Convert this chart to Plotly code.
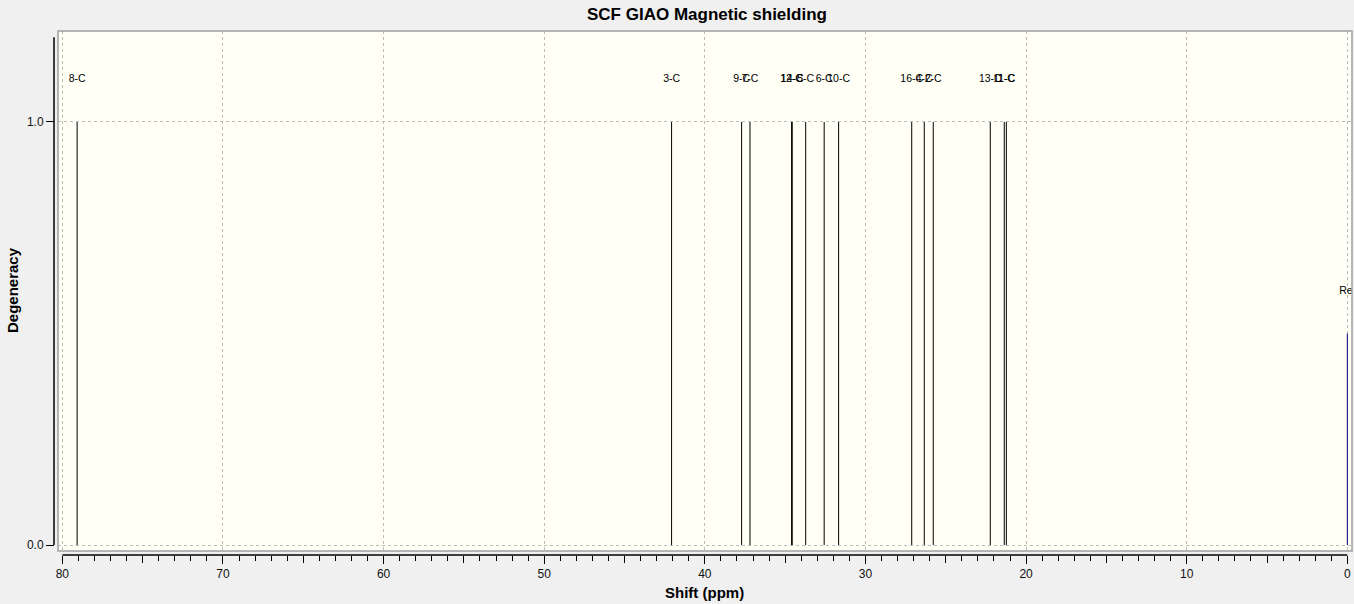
import plotly.graph_objects as go

# GIAO carbon shifts (ppm) and their degeneracy
shifts = [79.08, 42.07, 37.71, 37.19, 34.60, 34.56, 33.72, 32.57, 31.67,
          27.12, 26.34, 25.78, 22.23, 21.36, 21.23]
degeneracy = [1, 1, 1, 1, 1, 1, 1, 1, 1, 1, 1, 1, 1, 1, 1]
atoms = ["8-C", "3-C", "9-C", "7-C", "12-C", "14-C", "5-C", "6-C", "10-C",
         "16-C", "4-C", "2-C", "13-C", "11-C", "1-C"]

# reference (TMS) line
ref_shift = [0.0]
ref_height = [0.5]
ref_label = ["Ref"]

label_offset = 0.1
W, H = 1354, 604
ml, mr, mt, mb = 54, 2, 31, 49
pw = W - ml - mr
ph = H - mt - mb

font = "Liberation Sans, Arial, sans-serif"

stick_x, stick_y = [], []
for s, d in zip(shifts, degeneracy):
    stick_x += [s, s, None]
    stick_y += [0, d, None]

ref_x, ref_y = [], []
for s, d in zip(ref_shift, ref_height):
    ref_x += [s, s, None]
    ref_y += [0, d, None]

fig = go.Figure()
fig.add_trace(go.Scatter(x=stick_x, y=stick_y, mode="lines",
                         line=dict(color="black", width=1), hoverinfo="skip"))
fig.add_trace(go.Scatter(x=ref_x, y=ref_y, mode="lines",
                         line=dict(color="#000080", width=1), hoverinfo="skip"))
fig.add_trace(go.Scatter(x=shifts, y=[d + label_offset for d in degeneracy],
                         mode="text", text=atoms, cliponaxis=True,
                         textfont=dict(family=font, size=10.5, color="black")))
fig.add_trace(go.Scatter(x=ref_shift, y=[d + label_offset for d in ref_height],
                         mode="text", text=ref_label, cliponaxis=True,
                         textfont=dict(family=font, size=10.5, color="black")))
# overlay axis only for the 5 ppm tick marks
fig.add_trace(go.Scatter(x=[40], y=[0], xaxis="x2", mode="markers",
                         marker=dict(opacity=0), hoverinfo="skip"))

xr = [80.27, -0.29]
grid = dict(showgrid=True, gridcolor="#BDBDBD", griddash="3px,3px", gridwidth=1)
fig.update_layout(
    width=W, height=H,
    margin=dict(l=ml, r=mr, t=mt, b=mb),
    paper_bgcolor="#F0F0F0",
    plot_bgcolor="#FFFFF5",
    showlegend=False,
    font=dict(family=font, size=12, color="#111111"),
    xaxis=dict(
        range=xr, domain=[4 / pw, 1], anchor="free", position=0,
        dtick=10, tick0=0, ticks="outside", ticklen=8, tickcolor="black",
        showline=False, zeroline=False,
        minor=dict(dtick=1, tick0=0, ticks="outside", ticklen=5,
                   tickcolor="black", showgrid=False),
        tickfont=dict(size=12), **grid,
    ),
    xaxis2=dict(
        range=xr, domain=[4 / pw, 1], anchor="free", position=0,
        overlaying="x", dtick=5, tick0=0, ticks="outside", ticklen=7,
        tickcolor="black", showticklabels=False, showgrid=False,
        zeroline=False, showline=False,
    ),
    yaxis=dict(
        range=[-0.014, 1.215], domain=[4 / ph, 1], anchor="free", position=0,
        tickvals=[0, 1], tickformat=".1f", ticks="outside", ticklen=8,
        tickcolor="black", showline=False, zeroline=False,
        tickfont=dict(size=12), **grid,
    ),
    shapes=[
        dict(type="rect", xref="x domain", yref="y domain", x0=0, x1=1,
             y0=0, y1=1, line=dict(color="#A0A0A0", width=1.5), layer="above"),
        dict(type="line", xref="paper", yref="y", x0=0, x1=0, y0=0, y1=1.2,
             line=dict(color="black", width=1.5)),
        dict(type="line", xref="x", yref="paper", x0=80, x1=0, y0=0, y1=0,
             line=dict(color="black", width=1.5)),
    ],
    annotations=[
        dict(text="<b>SCF GIAO Magnetic shielding</b>", xref="paper",
             yref="paper", x=(707 - ml) / pw, y=1 + (mt - 15) / ph,
             xanchor="center", yanchor="middle", showarrow=False,
             font=dict(size=17, color="black")),
        dict(text="<b>Shift (ppm)</b>", xref="paper", yref="paper",
             x=(704 - ml) / pw, y=-(592 - (H - mb)) / ph,
             xanchor="center", yanchor="middle", showarrow=False,
             font=dict(size=15, color="black")),
        dict(text="<b>Degeneracy</b>", xref="paper", yref="paper",
             x=-(ml - 12) / pw, y=(H - mb - 290) / ph, textangle=-90,
             xanchor="center", yanchor="middle", showarrow=False,
             font=dict(size=15, color="black")),
    ],
)

# drop the page's default body margin so the figure sits at the window corner
fix_page = ("document.body.style.margin='0';"
            "document.body.style.overflow='hidden';"
            "document.body.style.background='#F0F0F0';")
fig.write_html("out.html", post_script=fix_page,
               config={"displayModeBar": False})
